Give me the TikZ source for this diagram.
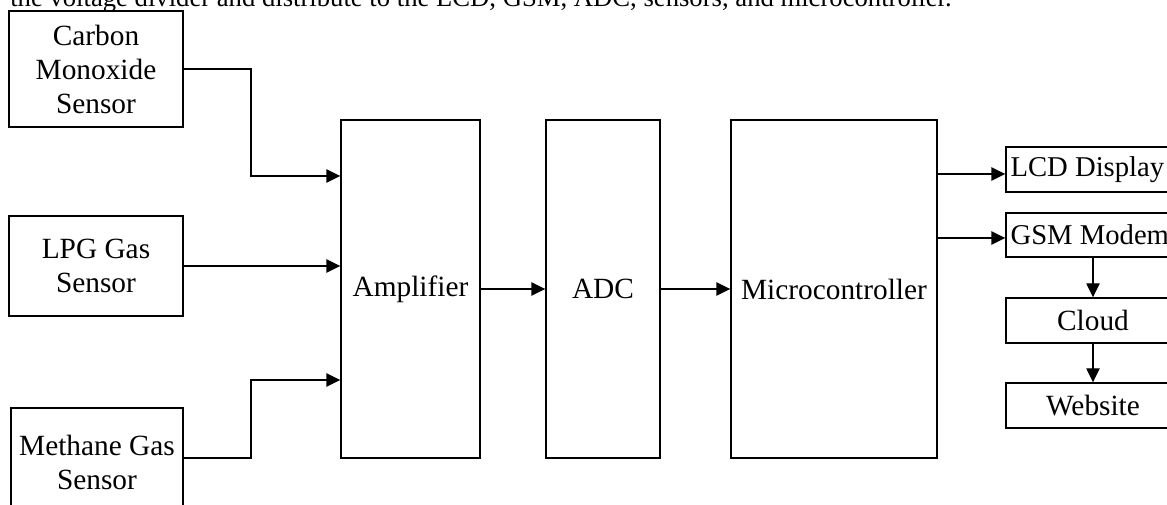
\documentclass[tikz,border=0pt]{standalone}
\usepackage{fontspec}
\setmainfont{Liberation Serif}
\usetikzlibrary{arrows.meta}
\begin{document}
\begin{tikzpicture}[x=0.75pt,y=-0.75pt,
  box/.style={draw, line width=1.05pt, align=center, inner sep=0pt,
    font=\fontsize{22}{25.5}\selectfont},
  bw/.style={minimum width={#1*0.75pt}},
  bh/.style={minimum height={#1*0.75pt}},
  boxtext/.style={anchor=west, inner xsep={5*0.75pt}, inner ysep=0pt,
    font=\fontsize{21.5}{25}\selectfont},
  arr/.style={line width=1.05pt, -{Triangle[length=10.5pt,width=10pt]}}]
\useasboundingbox (0,0) rectangle (1167,505);
% caption line (cut at top in the reference)
\node[anchor=base west, inner sep=0pt, font=\fontsize{20}{24}\selectfont] (cap) at (10,7)
  {the voltage divider and distribute to the LCD, GSM, ADC, sensors, and microcontroller.};
% sensors
\node[box, bw=174, bh=116] (co) at (96,69) {Carbon\\Monoxide\\Sensor};
\node[box, bw=174, bh=100] (lpg) at (96,266) {LPG Gas\\Sensor};
\node[box, bw=172, bh=108] (meth) at (97,462) {Methane Gas\\Sensor};
% main chain
\node[box, bw=139, bh=338] (amp) at (410.5,289) {Amplifier};
\node[box, bw=114, bh=338] (adc) at (603,289) {ADC};
\node[box, bw=206, bh=338] (mc) at (834,289) {Microcontroller};
% outputs
\node[box, bw=174, bh=45] (lcd) at (1093,169.5) {};
\node[boxtext] (lcdt) at (lcd.west) {LCD Display};
\node[box, bw=174, bh=44] (gsm) at (1093,235) {};
\node[boxtext] (gsmt) at (gsm.west) {GSM Modem};
\node[box, bw=174, bh=45] (cloud) at (1093,320.5) {Cloud};
\node[box, bw=174, bh=45] (web) at (1093,405.5) {Website};
% helper coordinates
\coordinate (jx) at (251,0);
\coordinate (y176) at (0,176);
\coordinate (y380) at (0,380);
\coordinate (y458) at (0,458);
\coordinate (y174) at (0,174);
\coordinate (y238) at (0,238);
% connectors
\draw[arr] (co.east) -- (co.east -| jx) |- (amp.west |- y176);
\draw[arr] (lpg.east) -- (lpg.east -| amp.west);
\draw[arr] (meth.east |- y458) -- (jx |- y458) |- (amp.west |- y380);
\draw[arr] (amp.east) -- (adc.west);
\draw[arr] (adc.east) -- (mc.west);
\draw[arr] (mc.east |- y174) -- (lcd.west |- y174);
\draw[arr] (mc.east |- y238) -- (gsm.west |- y238);
\draw[arr] (gsm.south) -- (cloud.north);
\draw[arr] (cloud.south) -- (web.north);
\end{tikzpicture}
\end{document}
